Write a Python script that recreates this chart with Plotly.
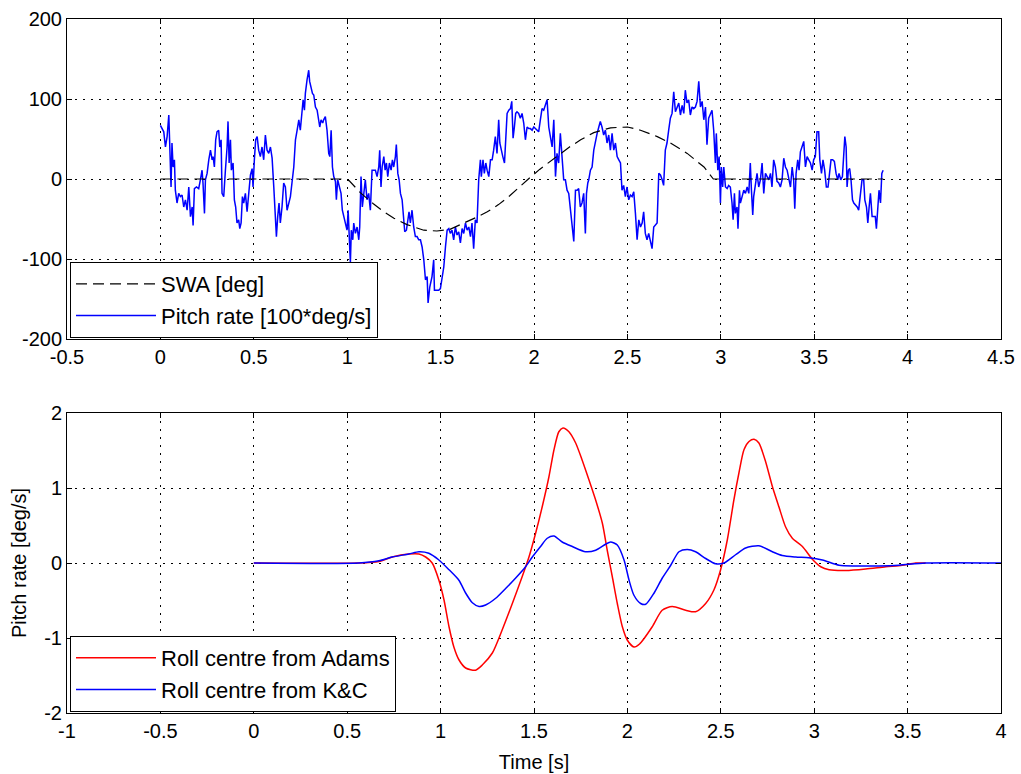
import plotly.graph_objects as go

# ---------------- top panel: steering input and measured pitch rate ----------------
swa_time = [0.0, 0.98, 1.01, 1.07, 1.14, 1.19, 1.25, 1.32, 1.41, 1.48, 1.55, 1.62, 1.70,
            1.75, 1.81, 1.87, 1.93, 1.97, 2.03, 2.07, 2.13, 2.19, 2.25, 2.32, 2.41, 2.47,
            2.50, 2.57, 2.66, 2.73, 2.82, 2.91, 2.96, 3.87]
swa_deg = [0, 0, -2, -17, -31, -40, -49, -57, -64, -65, -63, -56, -47,
           -41, -32, -21, -8, 0, 12, 19, 30, 40, 49, 58, 64, 65,
           65, 61, 53, 45, 32, 15, 0, 0]

pitch_time = [
    0.000, 0.018, 0.027, 0.036, 0.045, 0.050, 0.057, 0.062, 0.068, 0.075,
    0.080, 0.089, 0.098, 0.107, 0.116, 0.125, 0.134, 0.143, 0.152, 0.161,
    0.170, 0.175, 0.182, 0.193, 0.205, 0.214, 0.223, 0.228, 0.236, 0.241,
    0.250, 0.259, 0.268, 0.277, 0.282, 0.289, 0.296, 0.303, 0.312, 0.318,
    0.325, 0.330, 0.339, 0.348, 0.357, 0.362, 0.368, 0.375, 0.380, 0.389,
    0.396, 0.403, 0.410, 0.419, 0.425, 0.432, 0.439, 0.446, 0.455, 0.464,
    0.473, 0.482, 0.491, 0.496, 0.503, 0.510, 0.518, 0.526, 0.535, 0.544,
    0.553, 0.562, 0.571, 0.580, 0.589, 0.598, 0.607, 0.616, 0.621, 0.628,
    0.635, 0.642, 0.651, 0.660, 0.669, 0.678, 0.687, 0.696,
    0.714, 0.723, 0.732, 0.741, 0.749, 0.755, 0.764, 0.771, 0.776, 0.785,
    0.794, 0.799, 0.807, 0.814, 0.821, 0.830, 0.839, 0.848, 0.853, 0.860,
    0.869, 0.874, 0.883, 0.892, 0.901, 0.907, 0.914, 0.921, 0.928, 0.937,
    0.942, 0.949, 0.958, 0.967, 0.974, 0.981, 0.990, 0.999, 1.005, 1.012,
    1.017, 1.022, 1.030, 1.035, 1.044, 1.053, 1.062, 1.067, 1.074, 1.081,
    1.089, 1.097, 1.106, 1.115, 1.124, 1.133, 1.142, 1.151, 1.160, 1.169,
    1.174, 1.181, 1.187, 1.196, 1.203, 1.210, 1.217, 1.226, 1.235, 1.242,
    1.249, 1.258, 1.263, 1.271, 1.278, 1.285, 1.294, 1.303, 1.308, 1.317,
    1.324, 1.331, 1.338, 1.347, 1.356, 1.365, 1.374, 1.383, 1.392, 1.401,
    1.410, 1.419, 1.428, 1.433, 1.442,
    1.454, 1.463, 1.467, 1.481, 1.490, 1.499, 1.508, 1.517, 1.526, 1.535,
    1.544, 1.552, 1.561, 1.570, 1.579, 1.588, 1.597, 1.606, 1.615, 1.624,
    1.633, 1.642, 1.651, 1.660, 1.668, 1.677, 1.686, 1.695, 1.704, 1.713,
    1.718, 1.727, 1.734, 1.742, 1.749, 1.758, 1.767, 1.776, 1.784, 1.793,
    1.802, 1.811, 1.817, 1.824, 1.833, 1.842, 1.849, 1.856, 1.865, 1.874,
    1.881, 1.888, 1.895, 1.902, 1.909, 1.918, 1.927, 1.936, 1.945, 1.954,
    1.963, 1.972, 1.981, 1.990, 1.999, 2.008, 2.016, 2.025, 2.034, 2.043,
    2.052, 2.061, 2.070, 2.079, 2.088, 2.097, 2.106, 2.115, 2.123, 2.132,
    2.141, 2.150, 2.159, 2.168, 2.177, 2.186,
    2.204, 2.213, 2.222, 2.231, 2.239, 2.248, 2.257, 2.266, 2.275, 2.281,
    2.288, 2.293, 2.302, 2.311, 2.320, 2.329, 2.338, 2.347, 2.355, 2.364,
    2.373, 2.382, 2.391, 2.400, 2.409, 2.418, 2.427, 2.436, 2.445, 2.454,
    2.463, 2.471, 2.480, 2.489, 2.498, 2.507, 2.516, 2.525, 2.534, 2.543,
    2.552, 2.561, 2.570, 2.579, 2.587, 2.596, 2.605, 2.614, 2.623, 2.632,
    2.641, 2.650, 2.659, 2.668, 2.677, 2.686, 2.694, 2.703, 2.712, 2.721,
    2.730, 2.739, 2.748, 2.757, 2.766, 2.775, 2.784, 2.793, 2.802, 2.810,
    2.819, 2.828, 2.837, 2.846, 2.855, 2.864, 2.873, 2.882, 2.891, 2.900,
    2.909, 2.918, 2.926, 2.935,
    2.953, 2.962, 2.971, 2.976, 2.984, 2.991, 2.998, 3.003, 3.010, 3.016,
    3.025, 3.034, 3.042, 3.051, 3.060, 3.066, 3.073, 3.078, 3.087, 3.092,
    3.100, 3.105, 3.114, 3.123, 3.132, 3.141, 3.150, 3.158, 3.164, 3.171,
    3.176, 3.185, 3.194, 3.203, 3.212, 3.221, 3.230, 3.239, 3.248, 3.257,
    3.266, 3.274, 3.283, 3.292, 3.301, 3.310, 3.319, 3.328, 3.337, 3.346,
    3.355, 3.364, 3.373, 3.382, 3.390, 3.396, 3.403, 3.412, 3.419, 3.426,
    3.435, 3.444, 3.453, 3.462, 3.471, 3.480, 3.489, 3.497, 3.506, 3.515,
    3.524, 3.530, 3.539, 3.547, 3.556, 3.565, 3.574, 3.583, 3.590, 3.599,
    3.608, 3.617, 3.626, 3.633, 3.642, 3.651, 3.658, 3.664, 3.671, 3.676,
    3.683, 3.690, 3.697, 3.705, 3.712, 3.721, 3.730, 3.738, 3.747, 3.756,
    3.765, 3.771, 3.780, 3.787, 3.794, 3.801, 3.810, 3.818, 3.827, 3.833,
    3.840, 3.847, 3.855, 3.862, 3.869,
]
pitch_rate_x100 = [
    67, 59, 40, 53, 80, 24, -10, 45, 15, 24,
    -14, -30, -18, -22, -20, -35, -26, -39, -10, -47,
    -35, -58, -12, -10, -12, -1, 11, -5, -43, -1,
    7, 24, 36, 24, 28, 15, 49, 59, 61, 40,
    49, -18, -22, 11, 40, 72, 20, 49, 11, 20,
    -26, -35, -55, -51, -62, -55, -22, -30, -18, -41,
    -18, 5, 13, -10, 24, 49, 53, 36, 28, 40,
    24, 55, 36, 32, 40, 26, -10, -49, -72, -47,
    -30, -55, -35, -5, -10, -39, -30, -22,
    15, 49, 61, 74, 61, 78, 99, 86, 107, 124,
    136, 122, 115, 107, 105, 90, 86, 72, 65, 74,
    70, 74, 78, 61, 32, 28, 61, 15, 3, -3,
    -26, -1, -10, -18, -39, -47, -55, -64, -39, -85,
    -105, -64, -76, -55, -68, -60, -76, -60, 3, -35,
    -18, -1, -26, -18, -39, 11, 11, 11, 3, 15,
    36, -10, 15, 28, 11, 20, 3, 20, 11, 24,
    15, 28, 43, 7, -1, -18, -26, -47, -66, -64,
    -55, -41, -55, -39, -60, -72, -72, -76, -76, -85,
    -101, -126, -122, -155, -135,
    -122, -101, -139, -139, -139, -137, -126, -110, -85, -64,
    -62, -68, -64, -76, -60, -70, -66, -80, -62, -68,
    -55, -64, -60, -72, -55, -87, -51, -55, -1, 24,
    3, 24, 7, 20, 11, 3, 24, 24, 36, 53,
    32, 74, 45, 36, 28, 20, 49, 82, 86, 88,
    97, 51, 65, 82, 84, 82, 76, 82, 70, 49,
    65, 63, 63, 61, 65, 63, 61, 59, 74, 88,
    86, 92, 99, 65, 49, 40, 74, 3, 32, 20,
    57, 28, -1, -1, -14, -18,
    -55, -78, -14, -14, -12, -35, -30, -18, -68, -18,
    -5, -1, 11, 15, 36, 49, 57, 65, 72, 65,
    55, 61, 45, 55, 36, 57, 36, 45, 28, 24,
    20, -14, -8, -22, -10, -26, -20, -22, -16, -43,
    -76, -51, -60, -55, -41, -68, -76, -68, -80, -87,
    -60, -57, -55, 7, 5, -1, -8, 36, 45, 61,
    76, 82, 109, 84, 90, 95, 80, 92, 82, 111,
    95, 99, 80, 90, 88, 90, 97, 122, 90, 97,
    74, 90, 43, 76,
    86, 61, 20, 57, 11, 28, -30, 15, -10, 15,
    -10, -12, -8, -10, -30, -51, -18, -43, -35, -62,
    -14, -30, -22, -14, -18, -10, -18, 20, -14, -45,
    -22, -10, 7, -10, -1, 20, -18, 7, 3, -1,
    7, -10, 24, 15, -3, -5, -10, -1, 26, 15,
    11, -1, -10, 15, -1, -37, 7, 24, 11, 34,
    40, 47, 15, 28, 24, 20, 11, 24, 28, 59,
    59, 24, 7, 24, 11, -10, -10, 7, 24, 24,
    22, 7, -1, 7, -1, 3, 24, 53, 40, -10,
    11, 13, -1, -26, -30, -32, -35, -39, -18, -1,
    -1, -26, -35, -55, -35, -18, -47, -47, -47, -62,
    -30, -14, -30, 7, 11,
]

# ---------------- bottom panel: simulated pitch rate ----------------
adams_time = [0.0, 0.563, 0.670, 0.741, 0.830, 0.884, 0.920, 0.955, 0.991, 1.018,
              1.045, 1.071, 1.098, 1.134, 1.187, 1.223, 1.277, 1.330, 1.384, 1.437,
              1.473, 1.509, 1.544, 1.580, 1.607, 1.633, 1.655, 1.687, 1.723, 1.758,
              1.794, 1.830, 1.866, 1.892, 1.919, 1.946, 1.973, 2.000, 2.035, 2.065,
              2.133, 2.186, 2.240, 2.312, 2.365, 2.419, 2.463, 2.499, 2.535, 2.570,
              2.597, 2.624, 2.651, 2.678, 2.704, 2.740, 2.776, 2.811, 2.847, 2.883,
              2.937, 2.990, 3.035, 3.080, 3.169, 3.276, 3.383, 3.471, 3.543, 3.597]
adams_rate = [0, 0, 0.02, 0.08, 0.12, 0.12, 0.08, 0, -0.23, -0.49,
              -0.85, -1.12, -1.29, -1.40, -1.43, -1.36, -1.20, -0.89, -0.54, -0.18,
              0.08, 0.40, 0.75, 1.15, 1.51, 1.75, 1.80, 1.75, 1.60, 1.37,
              1.11, 0.84, 0.53, 0.17, -0.18, -0.54, -0.85, -1.03, -1.12, -1.08,
              -0.85, -0.63, -0.58, -0.63, -0.65, -0.54, -0.36, -0.09, 0.31, 0.84,
              1.20, 1.51, 1.62, 1.65, 1.60, 1.35, 1.02, 0.75, 0.48, 0.33,
              0.22, 0.05, -0.05, -0.09, -0.10, -0.08, -0.05, -0.03, 0, 0]

kc_time = [0.0, 0.563, 0.670, 0.741, 0.830, 0.884, 0.937, 0.991, 1.045, 1.098,
           1.134, 1.170, 1.206, 1.241, 1.295, 1.348, 1.402, 1.455, 1.491, 1.535,
           1.571, 1.607, 1.651, 1.705, 1.776, 1.830, 1.883, 1.910, 1.946, 1.982,
           2.009, 2.035, 2.071, 2.098, 2.143, 2.187, 2.232, 2.276, 2.320, 2.365,
           2.419, 2.472, 2.517, 2.579, 2.633, 2.704, 2.776, 2.829, 2.901, 2.972,
           3.044, 3.133, 3.222, 3.347, 3.454, 3.597, 4.0]
kc_rate = [0, 0, 0.03, 0.08, 0.12, 0.15, 0.13, 0.04, -0.09, -0.23,
           -0.40, -0.53, -0.58, -0.56, -0.47, -0.34, -0.20, -0.05, 0.08, 0.22,
           0.33, 0.36, 0.28, 0.22, 0.15, 0.17, 0.25, 0.28, 0.24, 0.04,
           -0.23, -0.43, -0.54, -0.55, -0.40, -0.20, -0.03, 0.15, 0.18, 0.15,
           0.06, -0.01, 0, 0.11, 0.20, 0.23, 0.15, 0.10, 0.08, 0.07,
           0.04, -0.03, -0.04, -0.04, -0.03, 0, 0]

# tick labels (plain hyphen minus signs)
top_xticks = [-0.5, 0, 0.5, 1, 1.5, 2, 2.5, 3, 3.5, 4, 4.5]
top_xlabels = ["-0.5", "0", "0.5", "1", "1.5", "2", "2.5", "3", "3.5", "4", "4.5"]
top_yticks = [-200, -100, 0, 100, 200]
top_ylabels = ["-200", "-100", "0", "100", "200"]
bot_xticks = [-1, -0.5, 0, 0.5, 1, 1.5, 2, 2.5, 3, 3.5, 4]
bot_xlabels = ["-1", "-0.5", "0", "0.5", "1", "1.5", "2", "2.5", "3", "3.5", "4"]
bot_yticks = [-2, -1, 0, 1, 2]
bot_ylabels = ["-2", "-1", "0", "1", "2"]

FONT = "Liberation Sans, Arial, Helvetica, sans-serif"
W, H = 1021, 774

fig = go.Figure()

fig.add_trace(go.Scatter(
    x=pitch_time, y=pitch_rate_x100, mode="lines", name="Pitch rate [100*deg/s]",
    line=dict(color="#0000ff", width=1.5), xaxis="x", yaxis="y",
    legend="legend", legendrank=2))
fig.add_trace(go.Scatter(
    x=swa_time, y=swa_deg, mode="lines", name="SWA [deg]",
    line=dict(color="black", width=1.2, dash="11px,6px"),
    xaxis="x", yaxis="y", legend="legend", legendrank=1))

fig.add_trace(go.Scatter(
    x=adams_time, y=adams_rate, mode="lines", name="Roll centre from Adams",
    line=dict(color="#ff0000", width=1.5, shape="spline", smoothing=0.7),
    xaxis="x2", yaxis="y2", legend="legend2"))
fig.add_trace(go.Scatter(
    x=kc_time, y=kc_rate, mode="lines", name="Roll centre from K&C",
    line=dict(color="#0000ff", width=1.5, shape="spline", smoothing=0.7),
    xaxis="x2", yaxis="y2", legend="legend2"))

left, right = 67 / W, 1001 / W
top_dom = [1 - 339 / H, 1 - 19 / H]
bot_dom = [1 - 713 / H, 1 - 413 / H]

axis_common = dict(
    automargin=False,
    showline=True, linecolor="black", linewidth=1, mirror="ticks",
    ticks="inside", ticklen=5, tickwidth=1, tickcolor="black",
    showgrid=True, gridcolor="black", gridwidth=1, griddash="2px,6px",
    zeroline=False, tickfont=dict(family=FONT, size=20, color="black"),
)

legend_common = dict(
    xanchor="left", yanchor="bottom",
    bgcolor="white", bordercolor="black", borderwidth=1,
    font=dict(family=FONT, size=22, color="black"),
    tracegroupgap=0, itemwidth=80,
)

fig.update_layout(
    width=W, height=H,
    margin=dict(l=0, r=0, t=0, b=0),
    paper_bgcolor="white", plot_bgcolor="white",
    font=dict(family=FONT, size=20, color="black"),
    xaxis=dict(domain=[left, right], range=[-0.5, 4.5], anchor="y",
               tickmode="array", tickvals=top_xticks, ticktext=top_xlabels, **axis_common),
    yaxis=dict(domain=top_dom, range=[-200, 200], anchor="x",
               tickmode="array", tickvals=top_yticks, ticktext=top_ylabels, **axis_common),
    xaxis2=dict(domain=[left, right], range=[-1, 4], anchor="y2",
                tickmode="array", tickvals=bot_xticks, ticktext=bot_xlabels,
                title=dict(text="Time [s]", font=dict(family=FONT, size=20), standoff=13),
                **axis_common),
    yaxis2=dict(domain=bot_dom, range=[-2, 2], anchor="x2",
                tickmode="array", tickvals=bot_yticks, ticktext=bot_ylabels,
                title=dict(text="Pitch rate [deg/s]", font=dict(family=FONT, size=20), standoff=12),
                **axis_common),
    legend=dict(x=70 / W, y=1 - 338 / H, **legend_common),
    legend2=dict(x=70 / W, y=1 - 712 / H, **legend_common),
    showlegend=True,
)

fig.write_html("out.html")
